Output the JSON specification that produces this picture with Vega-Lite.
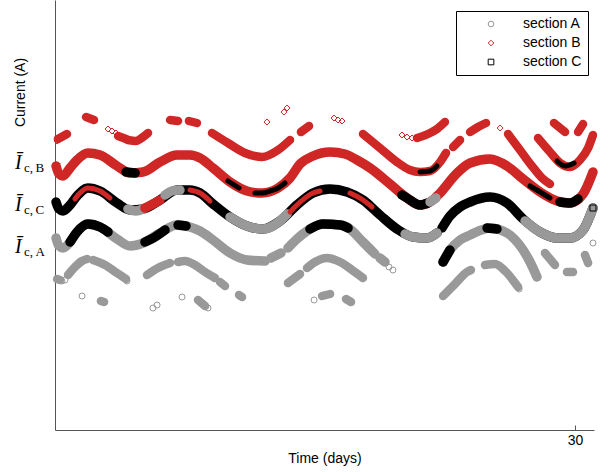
{
"$schema": "https://vega.github.io/schema/vega-lite/v6.json",
"autosize": {"type": "none"},
"padding": {"left": 55, "top": 0, "right": 17, "bottom": 42},
"width": 539,
"height": 430,
"background": "white",
"config": {
  "view": {"stroke": null},
  "font": "Liberation Sans",
  "axis": {"grid": false, "domainColor": "#555555", "tickColor": "#555555", "labelColor": "#000000", "titleColor": "#000000", "labelFont": "Liberation Sans", "titleFont": "Liberation Sans", "titleFontWeight": "normal", "labelFontSize": 14, "titleFontSize": 14},
  "legend": {"orient": "none", "legendX": 401, "legendY": 11, "strokeColor": "#000000", "fillColor": "#ffffff", "padding": 6, "symbolOffset": 22, "labelOffset": 25, "rowPadding": 5, "labelFontSize": 14, "labelFont": "Liberation Sans", "symbolSize": 32, "symbolStrokeWidth": 1, "title": null}
},
"datasets": {
  "bands": [
    {"g":"B1","s":"B","t":0.06,"v":26.4},{"g":"B1","s":"B","t":0.23,"v":25.6},{"g":"B1","s":"B","t":0.46,"v":25.4},{"g":"B1","s":"B","t":0.87,"v":26.2},{"g":"B1","s":"B","t":1.27,"v":27.0},{"g":"B1","s":"B","t":1.90,"v":27.7},{"g":"B1","s":"B","t":2.60,"v":27.5},{"g":"B1","s":"B","t":3.58,"v":26.4},{"g":"B1","s":"B","t":4.33,"v":25.7},{"g":"B1","s":"B","t":5.08,"v":25.8},{"g":"B1","s":"B","t":6.06,"v":26.8},{"g":"B1","s":"B","t":7.04,"v":27.5},{"g":"B1","s":"B","t":7.79,"v":27.5},{"g":"B1","s":"B","t":8.37,"v":27.2},{"g":"B1","s":"B","t":9.12,"v":26.2},{"g":"B1","s":"B","t":10.10,"v":24.8},{"g":"B1","s":"B","t":11.08,"v":23.9},{"g":"B1","s":"B","t":11.94,"v":23.7},{"g":"B1","s":"B","t":12.87,"v":24.2},{"g":"B1","s":"B","t":13.56,"v":25.2},{"g":"B1","s":"B","t":14.14,"v":26.6},{"g":"B1","s":"B","t":14.89,"v":27.4},{"g":"B1","s":"B","t":15.87,"v":27.8},{"g":"B1","s":"B","t":16.73,"v":27.6},{"g":"B1","s":"B","t":17.43,"v":27.0},{"g":"B1","s":"B","t":18.18,"v":26.2},{"g":"B1","s":"B","t":19.33,"v":24.6},{"g":"B1","s":"B","t":20.31,"v":23.2},{"g":"B1","s":"B","t":21.06,"v":22.5},{"g":"B1","s":"B","t":21.81,"v":23.0},{"g":"B1","s":"B","t":22.22,"v":23.7},{"g":"B1","s":"B","t":23.20,"v":25.7},{"g":"B1","s":"B","t":23.95,"v":26.7},{"g":"B1","s":"B","t":25.10,"v":27.1},{"g":"B1","s":"B","t":26.08,"v":26.4},{"g":"B1","s":"B","t":27.01,"v":25.1},{"g":"B1","s":"B","t":27.99,"v":23.8},{"g":"B1","s":"B","t":28.97,"v":22.9},{"g":"B1","s":"B","t":29.72,"v":22.7},{"g":"B1","s":"B","t":30.47,"v":23.6},{"g":"B1","s":"B","t":31.04,"v":25.8},
    {"g":"C1","s":"C","t":0.06,"v":22.8},{"g":"C1","s":"C","t":0.23,"v":22.1},{"g":"C1","s":"C","t":0.46,"v":21.9},{"g":"C1","s":"C","t":0.87,"v":22.5},{"g":"C1","s":"C","t":1.27,"v":23.4},{"g":"C1","s":"C","t":1.90,"v":24.2},{"g":"C1","s":"C","t":2.60,"v":23.9},{"g":"C1","s":"C","t":3.58,"v":22.7},{"g":"C1","s":"C","t":4.33,"v":22.0},{"g":"C1","s":"C","t":5.08,"v":22.1},{"g":"C1","s":"C","t":6.06,"v":23.0},{"g":"C1","s":"C","t":7.04,"v":24.0},{"g":"C1","s":"C","t":7.79,"v":24.0},{"g":"C1","s":"C","t":8.37,"v":23.7},{"g":"C1","s":"C","t":9.12,"v":22.6},{"g":"C1","s":"C","t":10.10,"v":21.3},{"g":"C1","s":"C","t":11.08,"v":20.4},{"g":"C1","s":"C","t":12.00,"v":20.1},{"g":"C1","s":"C","t":12.98,"v":20.9},{"g":"C1","s":"C","t":13.96,"v":22.5},{"g":"C1","s":"C","t":14.89,"v":23.7},{"g":"C1","s":"C","t":15.87,"v":24.1},{"g":"C1","s":"C","t":16.85,"v":23.8},{"g":"C1","s":"C","t":17.77,"v":23.0},{"g":"C1","s":"C","t":18.75,"v":21.5},{"g":"C1","s":"C","t":19.73,"v":20.1},{"g":"C1","s":"C","t":20.66,"v":19.3},{"g":"C1","s":"C","t":21.47,"v":19.2},{"g":"C1","s":"C","t":22.04,"v":19.7},
    {"g":"C2","s":"C","t":22.33,"v":20.2},{"g":"C2","s":"C","t":22.79,"v":21.4},{"g":"C2","s":"C","t":23.37,"v":22.3},{"g":"C2","s":"C","t":23.95,"v":22.8},{"g":"C2","s":"C","t":25.10,"v":23.3},{"g":"C2","s":"C","t":26.08,"v":22.7},{"g":"C2","s":"C","t":27.01,"v":21.1},{"g":"C2","s":"C","t":27.99,"v":19.8},{"g":"C2","s":"C","t":28.97,"v":19.2},{"g":"C2","s":"C","t":29.72,"v":19.2},{"g":"C2","s":"C","t":30.47,"v":20.0},{"g":"C2","s":"C","t":31.04,"v":22.2},
    {"g":"A1","s":"A","t":0.06,"v":19.2},{"g":"A1","s":"A","t":0.23,"v":18.4},{"g":"A1","s":"A","t":0.46,"v":18.2},{"g":"A1","s":"A","t":0.87,"v":18.8},{"g":"A1","s":"A","t":1.27,"v":19.8},{"g":"A1","s":"A","t":1.90,"v":20.6},{"g":"A1","s":"A","t":2.60,"v":20.3},{"g":"A1","s":"A","t":3.58,"v":19.1},{"g":"A1","s":"A","t":4.33,"v":18.4},{"g":"A1","s":"A","t":5.08,"v":18.7},{"g":"A1","s":"A","t":6.06,"v":19.7},{"g":"A1","s":"A","t":7.04,"v":20.5},{"g":"A1","s":"A","t":7.79,"v":20.3},{"g":"A1","s":"A","t":8.37,"v":19.9},{"g":"A1","s":"A","t":9.12,"v":19.0},{"g":"A1","s":"A","t":10.10,"v":17.7},{"g":"A1","s":"A","t":11.08,"v":17.0},{"g":"A1","s":"A","t":12.12,"v":16.9},
    {"g":"A2","s":"A","t":12.46,"v":17.2},{"g":"A2","s":"A","t":13.04,"v":17.7},
    {"g":"A3","s":"A","t":13.44,"v":18.2},{"g":"A3","s":"A","t":13.96,"v":19.1},{"g":"A3","s":"A","t":14.54,"v":19.9},{"g":"A3","s":"A","t":15.46,"v":20.6},{"g":"A3","s":"A","t":16.45,"v":20.5},{"g":"A3","s":"A","t":16.85,"v":20.3},{"g":"A3","s":"A","t":17.77,"v":18.8},{"g":"A3","s":"A","t":18.46,"v":17.6},
    {"g":"A4","s":"A","t":18.75,"v":17.2},{"g":"A4","s":"A","t":19.04,"v":16.8},
    {"g":"A5","s":"A","t":22.39,"v":16.8},{"g":"A5","s":"A","t":22.79,"v":18.0},{"g":"A5","s":"A","t":23.37,"v":19.0},{"g":"A5","s":"A","t":23.95,"v":19.5},{"g":"A5","s":"A","t":25.10,"v":20.2},{"g":"A5","s":"A","t":26.08,"v":19.7},{"g":"A5","s":"A","t":27.01,"v":18.0},{"g":"A5","s":"A","t":27.41,"v":16.8},{"g":"A5","s":"A","t":27.81,"v":15.3}
  ],
  "rows": [
    {"g":"D1","s":"A","t":0.12,"v":15.1},{"g":"D1","s":"A","t":0.29,"v":15.0},
    {"g":"D2","s":"A","t":0.75,"v":15.5},{"g":"D2","s":"A","t":1.15,"v":16.3},{"g":"D2","s":"A","t":1.56,"v":16.9},{"g":"D2","s":"A","t":1.85,"v":17.1},
    {"g":"D3","s":"A","t":2.19,"v":17.0},{"g":"D3","s":"A","t":2.89,"v":16.5},{"g":"D3","s":"A","t":3.58,"v":15.7},{"g":"D3","s":"A","t":4.10,"v":15.1},
    {"g":"D4","s":"A","t":5.31,"v":15.5},{"g":"D4","s":"A","t":5.94,"v":16.2},{"g":"D4","s":"A","t":6.64,"v":16.7},
    {"g":"D5","s":"A","t":7.10,"v":16.8},{"g":"D5","s":"A","t":7.50,"v":16.9},{"g":"D5","s":"A","t":8.08,"v":16.5},{"g":"D5","s":"A","t":8.66,"v":15.8},{"g":"D5","s":"A","t":9.23,"v":15.2},
    {"g":"D6","s":"A","t":9.52,"v":14.8},{"g":"D6","s":"A","t":9.81,"v":14.4},
    {"g":"D8","s":"A","t":13.44,"v":14.7},{"g":"D8","s":"A","t":14.14,"v":15.6},
    {"g":"D9","s":"A","t":14.54,"v":16.2},{"g":"D9","s":"A","t":15.00,"v":16.8},{"g":"D9","s":"A","t":15.70,"v":17.2},{"g":"D9","s":"A","t":16.45,"v":16.8},{"g":"D9","s":"A","t":17.14,"v":16.0},{"g":"D9","s":"A","t":17.77,"v":15.2},
    {"g":"D10","s":"A","t":22.39,"v":13.4},{"g":"D10","s":"A","t":23.08,"v":14.6},{"g":"D10","s":"A","t":23.77,"v":15.8},{"g":"D10","s":"A","t":24.00,"v":16.0},
    {"g":"D11","s":"A","t":24.81,"v":16.5},{"g":"D11","s":"A","t":25.39,"v":16.6},{"g":"D11","s":"A","t":25.97,"v":15.9},{"g":"D11","s":"A","t":26.72,"v":14.3},
    {"g":"D12","s":"A","t":28.27,"v":17.7},{"g":"D12","s":"A","t":28.85,"v":16.5},
    {"g":"D13","s":"A","t":29.54,"v":15.8},{"g":"D13","s":"A","t":29.89,"v":15.8},
    {"g":"D14","s":"A","t":30.58,"v":17.5},{"g":"D14","s":"A","t":30.76,"v":16.7},
    {"g":"E1","s":"A","t":2.65,"v":12.9},{"g":"E1","s":"A","t":2.83,"v":12.8},
    {"g":"E2","s":"A","t":8.25,"v":13.0},{"g":"E2","s":"A","t":8.66,"v":12.4},
    {"g":"E3","s":"A","t":10.62,"v":13.5},{"g":"E3","s":"A","t":10.79,"v":13.3},
    {"g":"E4","s":"A","t":15.41,"v":13.4},{"g":"E4","s":"A","t":15.87,"v":13.6},
    {"g":"E5","s":"A","t":16.79,"v":13.1},{"g":"E5","s":"A","t":17.08,"v":12.8},
    {"g":"U1","s":"B","t":0.17,"v":29.1},{"g":"U1","s":"B","t":0.69,"v":29.6},
    {"g":"U2","s":"B","t":1.79,"v":31.3},{"g":"U2","s":"B","t":2.25,"v":31.0},
    {"g":"U4","s":"B","t":3.64,"v":29.4},{"g":"U4","s":"B","t":4.10,"v":29.1},
    {"g":"U5","s":"B","t":4.21,"v":29.0},{"g":"U5","s":"B","t":4.67,"v":28.9},{"g":"U5","s":"B","t":5.08,"v":29.3},{"g":"U5","s":"B","t":5.37,"v":29.7},
    {"g":"U6","s":"B","t":6.64,"v":31.0},{"g":"U6","s":"B","t":7.10,"v":30.9},
    {"g":"U7","s":"B","t":7.73,"v":30.9},{"g":"U7","s":"B","t":8.19,"v":30.7},
    {"g":"U8","s":"B","t":9.06,"v":29.7},{"g":"U8","s":"B","t":9.98,"v":28.7},{"g":"U8","s":"B","t":10.96,"v":27.7},{"g":"U8","s":"B","t":11.94,"v":27.3},{"g":"U8","s":"B","t":12.87,"v":28.0},{"g":"U8","s":"B","t":13.56,"v":29.0},
    {"g":"U9","s":"B","t":14.19,"v":29.8},{"g":"U9","s":"B","t":14.66,"v":30.4},
    {"g":"U10","s":"B","t":17.77,"v":29.6},{"g":"U10","s":"B","t":18.75,"v":28.2},{"g":"U10","s":"B","t":19.73,"v":26.8},{"g":"U10","s":"B","t":20.48,"v":26.0},{"g":"U10","s":"B","t":21.06,"v":25.8},{"g":"U10","s":"B","t":21.64,"v":25.9},{"g":"U10","s":"B","t":22.22,"v":26.8},{"g":"U10","s":"B","t":22.56,"v":27.7},
    {"g":"U11","s":"B","t":20.89,"v":29.2},{"g":"U11","s":"B","t":21.52,"v":29.6},{"g":"U11","s":"B","t":22.04,"v":30.1},{"g":"U11","s":"B","t":22.50,"v":30.8},
    {"g":"U12","s":"B","t":22.97,"v":28.3},{"g":"U12","s":"B","t":23.37,"v":29.0},
    {"g":"U13","s":"B","t":23.95,"v":29.8},{"g":"U13","s":"B","t":24.41,"v":30.3},{"g":"U13","s":"B","t":24.87,"v":30.7},
    {"g":"U14","s":"B","t":26.14,"v":29.6},{"g":"U14","s":"B","t":26.83,"v":28.0},{"g":"U14","s":"B","t":27.52,"v":26.4},{"g":"U14","s":"B","t":28.10,"v":25.2},{"g":"U14","s":"B","t":28.56,"v":24.6},
    {"g":"U15","s":"B","t":27.87,"v":29.2},{"g":"U15","s":"B","t":28.56,"v":27.8},{"g":"U15","s":"B","t":29.14,"v":26.7},{"g":"U15","s":"B","t":29.72,"v":26.3},{"g":"U15","s":"B","t":30.29,"v":27.0},{"g":"U15","s":"B","t":30.76,"v":28.2},{"g":"U15","s":"B","t":31.04,"v":29.5},
    {"g":"U16","s":"B","t":28.79,"v":30.7},{"g":"U16","s":"B","t":29.43,"v":29.8},
    {"g":"U17","s":"B","t":30.18,"v":29.8},{"g":"U17","s":"B","t":30.47,"v":30.6}
  ],
  "thick": [
    {"g":"PC1","s":"A","t":4.21,"v":22.1},{"g":"PC1","s":"A","t":4.67,"v":21.9},{"g":"PC1","s":"A","t":5.08,"v":22.1},
    {"g":"PC2","s":"B","t":5.19,"v":22.2},{"g":"PC2","s":"B","t":5.65,"v":22.6},{"g":"PC2","s":"B","t":6.06,"v":23.0},
    {"g":"PC3","s":"A","t":6.35,"v":23.5},{"g":"PC3","s":"A","t":6.75,"v":23.9},{"g":"PC3","s":"A","t":7.21,"v":24.0},
    {"g":"PC4","s":"A","t":10.10,"v":21.3},{"g":"PC4","s":"A","t":11.08,"v":20.4},{"g":"PC4","s":"A","t":12.00,"v":20.1},{"g":"PC4","s":"A","t":12.98,"v":20.9},{"g":"PC4","s":"A","t":13.39,"v":21.6},
    {"g":"PC5","s":"A","t":20.20,"v":19.6},{"g":"PC5","s":"A","t":20.66,"v":19.3},{"g":"PC5","s":"A","t":21.47,"v":19.2},{"g":"PC5","s":"A","t":22.04,"v":19.7},
    {"g":"PC6","s":"A","t":27.12,"v":20.9},{"g":"PC6","s":"A","t":27.99,"v":19.8},{"g":"PC6","s":"A","t":28.97,"v":19.2},{"g":"PC6","s":"A","t":29.72,"v":19.2},{"g":"PC6","s":"A","t":30.47,"v":20.0},{"g":"PC6","s":"A","t":31.04,"v":22.2},
    {"g":"PB1","s":"C","t":4.10,"v":25.8},{"g":"PB1","s":"C","t":4.62,"v":25.7},
    {"g":"PB2","s":"C","t":20.02,"v":23.5},{"g":"PB2","s":"C","t":20.31,"v":23.2},{"g":"PB2","s":"C","t":21.06,"v":22.5},{"g":"PB2","s":"C","t":21.52,"v":22.7},
    {"g":"PB3","s":"A","t":21.64,"v":22.8},{"g":"PB3","s":"A","t":21.98,"v":23.2},
    {"g":"PB4","s":"C","t":29.14,"v":22.8},{"g":"PB4","s":"C","t":29.72,"v":22.7},{"g":"PB4","s":"C","t":30.18,"v":23.1},
    {"g":"PA1","s":"C","t":0.87,"v":18.8},{"g":"PA1","s":"C","t":1.27,"v":19.8},{"g":"PA1","s":"C","t":1.90,"v":20.6},{"g":"PA1","s":"C","t":2.60,"v":20.3},{"g":"PA1","s":"C","t":3.06,"v":19.8},
    {"g":"PA2","s":"C","t":5.19,"v":18.8},{"g":"PA2","s":"C","t":5.77,"v":19.3},{"g":"PA2","s":"C","t":6.35,"v":20.0},
    {"g":"PA3","s":"C","t":7.10,"v":20.5},{"g":"PA3","s":"C","t":7.56,"v":20.4},
    {"g":"PA4","s":"C","t":14.71,"v":20.1},{"g":"PA4","s":"C","t":15.46,"v":20.6},{"g":"PA4","s":"C","t":16.45,"v":20.5},{"g":"PA4","s":"C","t":16.91,"v":20.2},
    {"g":"PA5","s":"C","t":22.39,"v":16.8},{"g":"PA5","s":"C","t":22.79,"v":18.0},
    {"g":"PA6","s":"C","t":24.93,"v":20.2},{"g":"PA6","s":"C","t":25.50,"v":20.1}
  ],
  "thin": [
    {"g":"TC1","s":"B","t":1.15,"v":23.1},{"g":"TC1","s":"B","t":1.44,"v":23.7},{"g":"TC1","s":"B","t":1.90,"v":24.2},{"g":"TC1","s":"B","t":2.60,"v":23.9},{"g":"TC1","s":"B","t":3.17,"v":23.2},
    {"g":"TC2","s":"B","t":7.79,"v":24.0},{"g":"TC2","s":"B","t":8.37,"v":23.7},{"g":"TC2","s":"B","t":8.94,"v":22.9},
    {"g":"TC3","s":"B","t":13.56,"v":21.8},{"g":"TC3","s":"B","t":13.96,"v":22.5},{"g":"TC3","s":"B","t":14.89,"v":23.7},{"g":"TC3","s":"B","t":15.29,"v":23.9},
    {"g":"TC4","s":"B","t":17.02,"v":23.7},{"g":"TC4","s":"B","t":17.77,"v":23.0},{"g":"TC4","s":"B","t":18.29,"v":22.3},
    {"g":"TB1","s":"C","t":11.54,"v":23.7},{"g":"TB1","s":"C","t":11.94,"v":23.7},{"g":"TB1","s":"C","t":12.41,"v":23.9},{"g":"TB1","s":"C","t":12.87,"v":24.2},{"g":"TB1","s":"C","t":13.27,"v":24.7},
    {"g":"TB2","s":"C","t":27.41,"v":24.4},{"g":"TB2","s":"C","t":27.99,"v":23.8},{"g":"TB2","s":"C","t":28.56,"v":23.2},
    {"g":"TB3","s":"C","t":9.98,"v":24.9},{"g":"TB3","s":"C","t":10.62,"v":24.2},
    {"g":"PU1","s":"C","t":21.06,"v":25.8},{"g":"PU1","s":"C","t":21.64,"v":25.9},{"g":"PU1","s":"C","t":22.04,"v":26.4},
    {"g":"PU2","s":"C","t":28.97,"v":26.9},{"g":"PU2","s":"C","t":29.43,"v":26.4},{"g":"PU2","s":"C","t":29.95,"v":26.7}
  ],
  "pts": [
    {"section":"section A","t":0.17,"v":15.1},{"section":"section A","t":0.40,"v":14.9},{"section":"section A","t":0.58,"v":15.0},{"section":"section A","t":4.15,"v":14.9},{"section":"section A","t":1.56,"v":13.4},{"section":"section A","t":5.65,"v":12.2},{"section":"section A","t":5.89,"v":12.5},{"section":"section A","t":7.33,"v":13.3},{"section":"section A","t":8.83,"v":12.2},{"section":"section A","t":14.95,"v":13.0},{"section":"section A","t":19.27,"v":16.3},{"section":"section A","t":19.50,"v":16.0},{"section":"section A","t":26.78,"v":14.1},{"section":"section A","t":31.04,"v":18.7},{"section":"section A","t":22.04,"v":19.5},
    {"section":"section B","t":3.06,"v":30.1},{"section":"section B","t":3.29,"v":29.9},{"section":"section B","t":3.52,"v":29.7},{"section":"section B","t":12.23,"v":30.8},{"section":"section B","t":13.21,"v":31.8},{"section":"section B","t":13.39,"v":32.2},{"section":"section B","t":16.10,"v":31.2},{"section":"section B","t":16.33,"v":31.0},{"section":"section B","t":16.56,"v":30.9},{"section":"section B","t":20.02,"v":29.5},{"section":"section B","t":20.31,"v":29.3},{"section":"section B","t":20.60,"v":29.2},{"section":"section B","t":25.68,"v":30.2},{"section":"section B","t":23.08,"v":28.6},{"section":"section B","t":27.99,"v":29.0},{"section":"section B","t":30.76,"v":28.0},{"section":"section B","t":31.04,"v":25.8},{"section":"section B","t":0.12,"v":28.9},{"section":"section B","t":0.46,"v":29.3},
    {"section":"section C","t":31.04,"v":22.2}
  ],
  "ylab": [
    {"v":26.7,"sub":"c,\u2009B"},{"v":22.5,"sub":"c,\u2009C"},{"v":18.3,"sub":"c,\u2009A"}
  ]
},
"encoding": {
  "y": {"field": "v", "type": "quantitative", "scale": {"domain": [0, 43], "nice": false},
        "axis": {"values": [18.3, 22.5, 26.7], "labels": false, "tickSize": -5, "title": "Current (A)", "titleX": -35, "titleY": 92, "titleAngle": -90, "titleAlign": "center", "titleBaseline": "middle"}}
},
"layer": [
  {"data": {"name": "rows"}, "mark": {"type": "line", "strokeWidth": 8.5, "strokeCap": "round", "strokeJoin": "round", "interpolate": "monotone"},
   "encoding": {"x": {"field": "t", "type": "quantitative", "scale": {"domain": [0, 31.1], "nice": false, "zero": false},
        "axis": {"values": [30], "title": "Time (days)", "tickSize": -5, "labelPadding": 8, "titlePadding": 4, "format": "d"}},
     "detail": {"field": "g"}, "color": {"field": "s", "type": "nominal", "scale": {"domain": ["A","B","C"], "range": ["#999999","#cf2626","#000000"]}, "legend": null}}},
  {"data": {"name": "bands"}, "mark": {"type": "line", "strokeWidth": 9.5, "strokeCap": "round", "strokeJoin": "round", "interpolate": "monotone"},
   "encoding": {"x": {"field": "t", "type": "quantitative"}, "detail": {"field": "g"}, "color": {"field": "s", "type": "nominal", "scale": {"domain": ["A","B","C"], "range": ["#999999","#cf2626","#000000"]}, "legend": null}}},
  {"data": {"name": "thick"}, "mark": {"type": "line", "strokeWidth": 9.5, "strokeCap": "round", "strokeJoin": "round", "interpolate": "monotone"},
   "encoding": {"x": {"field": "t", "type": "quantitative"}, "detail": {"field": "g"}, "color": {"field": "s", "type": "nominal", "scale": {"domain": ["A","B","C"], "range": ["#999999","#cf2626","#000000"]}, "legend": null}}},
  {"data": {"name": "thin"}, "mark": {"type": "line", "strokeWidth": 5, "strokeCap": "round", "strokeJoin": "round", "interpolate": "monotone"},
   "encoding": {"x": {"field": "t", "type": "quantitative"}, "detail": {"field": "g"}, "color": {"field": "s", "type": "nominal", "scale": {"domain": ["A","B","C"], "range": ["#999999","#cf2626","#000000"]}, "legend": null}}},
  {"data": {"name": "pts"}, "mark": {"type": "point", "filled": false, "size": 36, "strokeWidth": 1, "opacity": 1},
   "encoding": {
     "x": {"field": "t", "type": "quantitative"},
     "color": {"field": "section", "type": "nominal", "scale": {"domain": ["section A","section B","section C"], "range": ["#999999","#cf2626","#000000"]}},
     "shape": {"field": "section", "type": "nominal", "scale": {"domain": ["section A","section B","section C"], "range": ["circle","diamond","square"]}}}},
  {"data": {"name": "ylab"}, "mark": {"type": "text", "text": "Ī", "font": "Liberation Serif", "fontStyle": "italic", "fontSize": 20, "align": "left", "baseline": "middle", "dx": -40, "color": "#000000"},
   "encoding": {"x": {"datum": 0, "type": "quantitative"}}},
  {"data": {"name": "ylab"}, "mark": {"type": "text", "font": "Liberation Serif", "fontSize": 13, "align": "left", "baseline": "middle", "dx": -31, "dy": 5, "color": "#000000"},
   "encoding": {"x": {"datum": 0, "type": "quantitative"}, "text": {"field": "sub"}}}
],
"resolve": {"scale": {"color": "independent", "shape": "independent"}}
}
